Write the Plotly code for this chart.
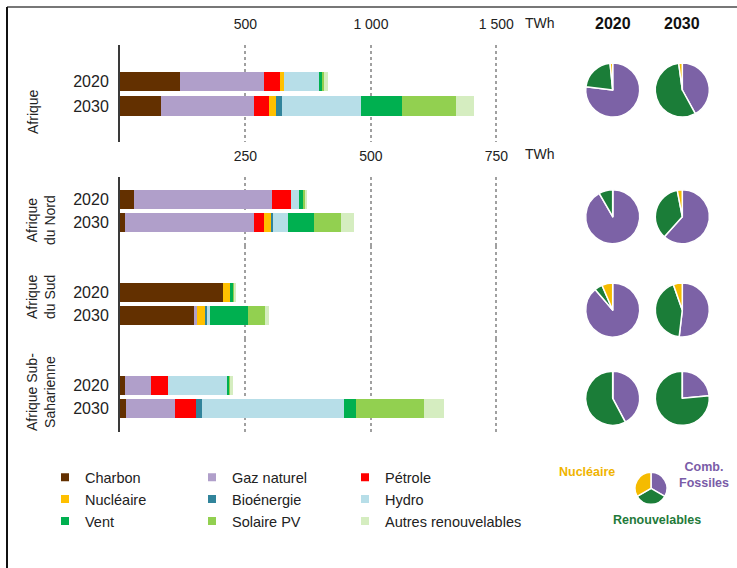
import plotly.graph_objects as go

W, H = 737, 568

# ---- data (TWh) ----------------------------------------------------------
sources = ["Charbon", "Gaz naturel", "Pétrole", "Nucléaire", "Bioénergie",
           "Hydro", "Vent", "Solaire PV", "Autres renouvelables"]
colors = ["#633000", "#b09fca", "#ff0000", "#ffc000", "#31849b",
          "#b7dee8", "#00b050", "#92d050", "#d5edc0"]
years = ["2020", "2030"]

afrique_2020 = [238, 334, 67, 13, 0, 141, 12, 9, 16]
afrique_2030 = [165, 369, 59, 30, 24, 314, 162, 216, 72]
nord_2020 = [27, 276, 38, 0, 0, 16, 7, 4, 4]
nord_2030 = [9, 259, 19, 14, 4, 29, 53, 54, 25]
sud_2020 = [205, 0, 0, 15, 0, 0, 6, 3, 2]
sud_2030 = [147, 7, 0, 16, 4, 5, 77, 32, 9]
ssa_2020 = [10, 52, 33, 0, 0, 120, 3, 2, 5]
ssa_2030 = [12, 98, 42, 0, 12, 283, 24, 134, 41]

top_ticks = [500, 1000, 1500]
top_ticktext = ["500", "1 000", "1 500"]
sub_ticks = [250, 500, 750]
sub_ticktext = ["250", "500", "750"]

pie_labels = ["Comb. Fossiles", "Renouvelables", "Nucléaire"]
pie_colors = ["#7c62a6", "#1b7d38", "#f5bb00"]

SANS = "Liberation Sans, Arial, sans-serif"


def px(x):
    return x / W


def py(y):
    return 1 - y / H


def pie_shares(vals):
    fossil = sum(vals[0:3])
    nuclear = vals[3]
    renew = sum(vals[4:])
    return [fossil, renew, nuclear]


fig = go.Figure()

# ---- stacked bars ---------------------------------------------------------
panels = [
    ("x", "y", afrique_2020, afrique_2030, 0.79),
    ("x2", "y2", nord_2020, nord_2030, 0.82),
    ("x3", "y3", sud_2020, sud_2030, 0.82),
    ("x4", "y4", ssa_2020, ssa_2030, 0.82),
]
for xa, ya, v20, v30, bw in panels:
    for i, src in enumerate(sources):
        fig.add_trace(go.Bar(
            orientation="h", y=years, x=[v20[i], v30[i]], name=src,
            marker=dict(color=colors[i], line=dict(width=0)), width=bw,
            xaxis=xa, yaxis=ya, showlegend=False, hoverinfo="x+name",
        ))

# ---- legend entries (three columns) ---------------------------------------
legend_of = ["legend", "legend2", "legend3"]
for i, src in enumerate(sources):
    fig.add_trace(go.Scatter(
        x=[None], y=[None], mode="markers", name=src,
        marker=dict(symbol="square", size=8, color=colors[i]),
        legend=legend_of[i % 3], showlegend=True,
    ))

# ---- pies -------------------------------------------------------------------
pie_cols = {"2020": 612.7, "2030": 682.3}
pie_rows = [
    (90, afrique_2020, afrique_2030),
    (216.7, nord_2020, nord_2030),
    (310, sud_2020, sud_2030),
    (398.3, ssa_2020, ssa_2030),
]
R = 27
for cy, v20, v30 in pie_rows:
    for yr, vals in (("2020", v20), ("2030", v30)):
        cx = pie_cols[yr]
        fig.add_trace(go.Pie(
            values=pie_shares(vals), labels=pie_labels, sort=False,
            direction="clockwise", rotation=0, textinfo="none",
            marker=dict(colors=pie_colors, line=dict(color="white", width=1.5)),
            domain=dict(x=[px(cx - R), px(cx + R)], y=[py(cy + R), py(cy - R)]),
            showlegend=False, hoverinfo="label+percent",
        ))

# key pie for the three groups
kx, ky, kr = 651, 488.3, 16
fig.add_trace(go.Pie(
    values=[1, 1, 1], labels=pie_labels, sort=False, direction="clockwise",
    rotation=0, textinfo="none",
    marker=dict(colors=pie_colors, line=dict(color="white", width=1.5)),
    domain=dict(x=[px(kx - kr), px(kx + kr)], y=[py(ky + kr), py(ky - kr)]),
    showlegend=False, hoverinfo="label",
))

# ---- axes -------------------------------------------------------------------
dom_x = [px(120), px(540)]
xcommon = dict(domain=dom_x, showgrid=True, gridcolor="#a0a0a0", griddash="dot",
               gridwidth=1.5, zeroline=False, showline=False, ticks="",
               side="top", fixedrange=True,
               tickfont=dict(family=SANS, size=14, color="#222"),
               ticklabelstandoff=12)
ycommon = dict(type="category", categoryorder="array", categoryarray=years,
               showline=True, linecolor="#3a3a3a", linewidth=2, ticks="",
               showgrid=False, zeroline=False, fixedrange=True,
               tickfont=dict(family=SANS, size=16, color="#222"),
               ticklabelstandoff=6)

fig.update_layout(
    xaxis=dict(xcommon, range=[0, 1674], anchor="y",
               tickvals=top_ticks, ticktext=top_ticktext),
    yaxis=dict(ycommon, anchor="x", domain=[py(141.7), py(45)],
               range=[2.445, -1.47]),
    xaxis2=dict(xcommon, range=[0, 837], anchor="y2",
                tickvals=sub_ticks, ticktext=sub_ticktext),
    yaxis2=dict(ycommon, anchor="x2", domain=[py(246), py(177)],
                range=[2.009, -0.991]),
    xaxis3=dict(xcommon, matches="x2", anchor="y3", showticklabels=False,
                tickvals=sub_ticks),
    yaxis3=dict(ycommon, anchor="x3", domain=[py(339), py(246)],
                range=[2.009, -2.035]),
    xaxis4=dict(xcommon, matches="x2", anchor="y4", showticklabels=False,
                tickvals=sub_ticks),
    yaxis4=dict(ycommon, anchor="x4", domain=[py(432), py(339)],
                range=[2.009, -2.035]),
)

legend_style = dict(orientation="v", xanchor="left", yanchor="top",
                    traceorder="normal",
                    bgcolor="rgba(0,0,0,0)", borderwidth=0,
                    font=dict(family=SANS, size=14.5, color="#222"),
                    itemclick=False, itemdoubleclick=False)
fig.update_layout(
    legend=dict(legend_style, x=px(45), y=py(461.3)),
    legend2=dict(legend_style, x=px(192), y=py(461.3)),
    legend3=dict(legend_style, x=px(345), y=py(461.3)),
)

# ---- text -------------------------------------------------------------------
ann = []


def text(x, y, s, size=14, color="#222", family=SANS, angle=0, weight="normal",
         xanchor="center"):
    ann.append(dict(x=px(x), y=py(y), xref="paper", yref="paper", text=s,
                    showarrow=False, textangle=angle, xanchor=xanchor,
                    yanchor="middle",
                    font=dict(size=size, color=color, family=family,
                              weight=weight)))


text(540, 23, "TWh")
text(540, 154, "TWh")
text(33, 112, "Afrique", size=14, angle=-90)
text(41, 220, "Afrique<br>du Nord", size=14, angle=-90)
text(41, 297, "Afrique<br>du Sud", size=14, angle=-90)
text(41, 392, "Afrique Sub-<br>Saharienne", size=14, angle=-90)
text(pie_cols["2020"], 23, "2020", size=16, weight="bold", color="#111")
text(pie_cols["2030"], 23, "2030", size=16, weight="bold", color="#111")
text(587, 472, "Nucléaire", size=12.5, color="#f0b400", weight="bold")
text(704, 475, "Comb.<br>Fossiles", size=12.5, color="#7a5ca8", weight="bold")
text(657, 520, "Renouvelables", size=12.5, color="#1f7a3a", weight="bold")

fig.update_layout(
    width=W, height=H, margin=dict(l=0, r=0, t=0, b=0),
    paper_bgcolor="white", plot_bgcolor="rgba(0,0,0,0)",
    barmode="stack", bargap=0, showlegend=True,
    annotations=ann,
    shapes=[
        dict(type="line", xref="paper", yref="paper", x0=px(7), x1=1,
             y0=py(7), y1=py(7), line=dict(color="#777", width=2)),
        dict(type="line", xref="paper", yref="paper", x0=px(7), x1=px(7),
             y0=py(7), y1=0, line=dict(color="#111", width=2)),
    ],
)

fig.write_html("out.html")
